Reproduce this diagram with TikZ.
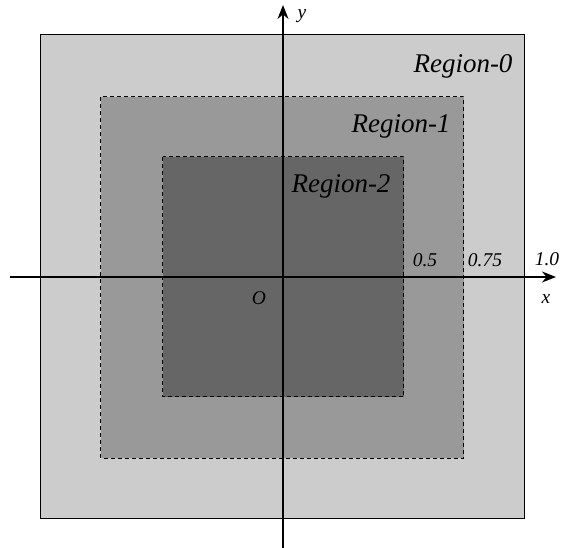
\documentclass[tikz,border=0pt]{standalone}
\usepackage{fontspec}
\setmainfont{Liberation Serif}[ItalicFont={Liberation Serif Italic}]
\usetikzlibrary{arrows.meta}
\tikzset{
  region/.style={draw=black, line width=1pt},
  inner region/.style={draw=black, line width=1pt, dash pattern=on 4pt off 3pt},
  axis/.style={draw=black, line width=1.6pt, -{Stealth[length=14pt,width=11pt]}},
  biglabel/.style={font=\fontsize{27}{27}\selectfont\itshape, inner sep=0pt},
  smalllabel/.style={font=\fontsize{19.5}{19.5}\selectfont\itshape, inner sep=0pt}
}
\begin{document}
\begin{tikzpicture}[x=1pt, y=-1pt]
\useasboundingbox (0,0) rectangle (563,548);
\fill[white] (0,0) rectangle (563,548);
\definecolor{gA}{HTML}{CCCCCC}
\definecolor{gB}{HTML}{999999}
\definecolor{gC}{HTML}{666666}
\filldraw[region, fill=gA] (40.5,35) rectangle (524.5,518.5);
\filldraw[inner region, fill=gB] (100.5,97) rectangle (463.5,458);
\filldraw[inner region, fill=gC] (162.5,157) rectangle (403.5,397);
\coordinate (xs) at (10,277);
\coordinate (xe) at (556,277);
\coordinate (ys) at (283,548);
\coordinate (ye) at (283,5);
\draw[axis] (xs) -- (xe);
\draw[axis] (ys) -- (ye);
\node[smalllabel] (ylab) at (302,16) {y};
\node[smalllabel] (xlab) at (546,299) {x};
\node[smalllabel] (olab) at (259,298) {O};
\node[smalllabel] (l05) at (425,260) {0.5};
\node[smalllabel] (l075) at (485,260) {0.75};
\node[smalllabel] (l10) at (547,259) {1.0};
\node[biglabel] (r0) at (463,66) {Region-0};
\node[biglabel] (r1) at (401,126) {Region-1};
\node[biglabel] (r2) at (341,186) {Region-2};
\end{tikzpicture}
\end{document}
